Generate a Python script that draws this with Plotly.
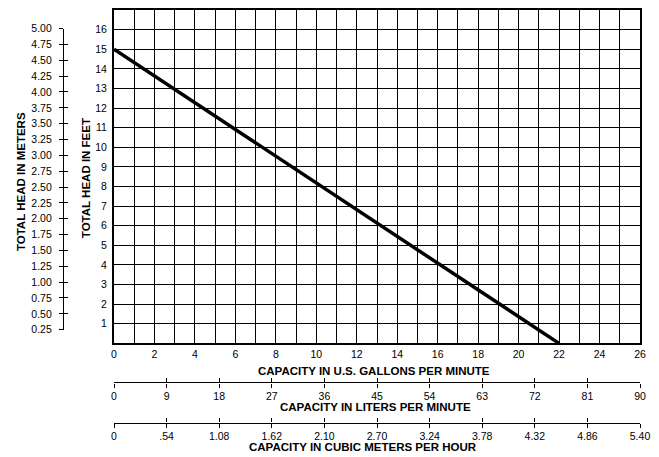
import plotly.graph_objects as go

# ---- data ----
gpm_ticks = list(range(0, 27, 2))
gpm_grid = list(range(0, 27))
feet_ticks = list(range(1, 17))
feet_grid = list(range(0, 18))
meter_ticks = [0.25 * i for i in range(1, 21)]
lpm_ticks = list(range(0, 91, 9))
cmh_vals = [0, 0.54, 1.08, 1.62, 2.16, 2.70, 3.24, 3.78, 4.32, 4.86, 5.40]
cmh_labels = ["0", ".54", "1.08", "1.62", "2.10", "2.70", "3.24", "3.78", "4.32", "4.86", "5.40"]
curve_gpm = [0, 22]
curve_ft = [15, 0]

# ---- geometry helpers (pixel -> paper) ----
W, H = 659, 457
ML, MR, MT, MB = 10, 19, 6, 4
def px(x):
    return (x - ML) / (W - ML - MR)
def py(y):
    return (H - MB - y) / (H - MT - MB)

FONT = "Liberation Sans, Arial, sans-serif"
tickfont = dict(family=FONT, size=10.5, color="black")

fig = go.Figure()
fig.add_trace(go.Scatter(x=curve_gpm, y=curve_ft, mode="lines",
                         line=dict(color="black", width=3.5),
                         xaxis="x", yaxis="y", showlegend=False, hoverinfo="skip"))
# dummy traces to activate auxiliary axes
for ax, vals in (("x2", lpm_ticks), ("x4", lpm_ticks), ("x3", cmh_vals), ("x5", cmh_vals)):
    fig.add_trace(go.Scatter(x=vals, y=[None] * len(vals), mode="markers",
                             xaxis=ax, yaxis="y", showlegend=False, hoverinfo="skip"))
for ax in ("y2", "y3"):
    fig.add_trace(go.Scatter(x=[None] * len(meter_ticks), y=meter_ticks, mode="markers",
                             xaxis="x", yaxis=ax, showlegend=False, hoverinfo="skip"))

grid = dict(showgrid=True, gridcolor="black", gridwidth=1.3)

def aux_x(pos, rng, vals, text, inside, overl="x"):
    d = dict(overlaying=overl, anchor="free", position=pos, range=rng,
             tickvals=vals, showline=True, linecolor="black", linewidth=1.3,
             ticks="inside" if inside else "outside", ticklen=4, tickwidth=1.3,
             tickcolor="black", showgrid=False, zeroline=False, side="bottom",
             tickfont=tickfont, showticklabels=not inside)
    if text is not None:
        d["ticktext"] = text
    return d

fig.update_layout(
    width=W, height=H,
    margin=dict(l=ML, r=MR, t=MT, b=MB),
    paper_bgcolor="white", plot_bgcolor="rgba(0,0,0,0)",
    font=dict(family=FONT, color="black"),
    xaxis=dict(domain=[px(114), px(640)], range=[0, 26], tickvals=gpm_ticks,
               minor=dict(tickvals=gpm_grid, **grid), **grid,
               showline=True, mirror=True, linecolor="black", linewidth=2,
               ticks="", zeroline=False, anchor="y", tickfont=tickfont),
    yaxis=dict(domain=[py(347), py(6)], range=[0, 17], tickvals=feet_ticks,
               minor=dict(tickvals=feet_grid, **grid), **grid,
               showline=True, mirror=True, linecolor="black", linewidth=2,
               ticks="", zeroline=False, anchor="x", tickfont=tickfont,
               ticklabelstandoff=3),
    xaxis2=aux_x(py(387), [0, 90], lpm_ticks, None, False),
    xaxis4=aux_x(py(387), [0, 90], lpm_ticks, None, True),
    xaxis3=aux_x(py(428), [0, 5.40], cmh_vals, cmh_labels, False),
    xaxis5=aux_x(py(428), [0, 5.40], cmh_vals, cmh_labels, True),
    yaxis2=dict(domain=[py(333), py(25)], anchor="free", position=px(63),
                range=[0.25, 5.00], tickvals=meter_ticks, tickformat=".2f",
                showline=True, linecolor="black", linewidth=1.3,
                ticks="outside", ticklen=4, tickwidth=1.3, tickcolor="black",
                showgrid=False, zeroline=False, side="left", tickfont=tickfont,
                ticklabelstandoff=5),
    yaxis3=dict(overlaying="y2", anchor="free", position=px(63),
                range=[0.25, 5.00], tickvals=meter_ticks,
                showline=False, ticks="inside", ticklen=4, tickwidth=1.3,
                tickcolor="black", showgrid=False, zeroline=False, side="left",
                showticklabels=False),
)

title_font = dict(family=FONT, size=11.5, color="black")
def title(text, x, y, angle=0):
    fig.add_annotation(text="<b>%s</b>" % text, x=px(x), y=py(y), xref="paper", yref="paper",
                       showarrow=False, textangle=angle, font=title_font,
                       xanchor="center", yanchor="middle")

title("TOTAL HEAD IN METERS", 21, 182, -90)
title("TOTAL HEAD IN FEET", 86, 178, -90)
title("CAPACITY IN U.S. GALLONS PER MINUTE", 374, 375)
title("CAPACITY IN LITERS PER MINUTE", 375, 412)
title("CAPACITY IN CUBIC METERS PER HOUR", 363, 453)

fig.write_html("out.html", config={"displayModeBar": False},
               post_script="document.body.style.margin='0px';")
